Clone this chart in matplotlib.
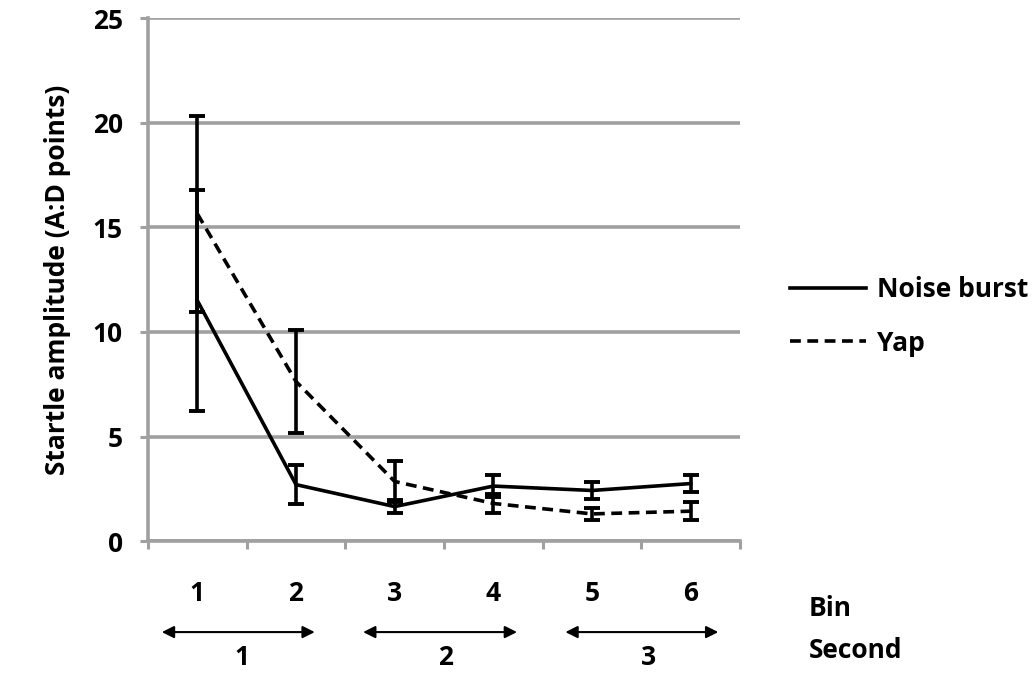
import numpy as np
import matplotlib.pyplot as plt
import matplotlib.transforms as mtransforms
from matplotlib.lines import Line2D

plt.rcParams['font.family'] = ['Open Sans', 'DejaVu Sans']
plt.rcParams['font.weight'] = 'bold'

bins = [1, 2, 3, 4, 5, 6]
noise = [11.5, 2.7, 1.65, 2.63, 2.42, 2.75]
noise_err = [5.3, 0.92, 0.3, 0.52, 0.42, 0.42]
yap = [15.65, 7.63, 2.85, 1.8, 1.3, 1.43]
yap_err = [4.68, 2.48, 1.0, 0.47, 0.3, 0.44]
seconds = ["1", "2", "3"]
second_pos = [1.45, 3.52, 5.57]
arrow_spans = [(0.64, 2.19), (2.68, 4.24), (4.73, 6.28)]

grey = "#a0a0a0"
dash = (0, (3, 1.8))
fs = 19

fig = plt.figure(figsize=(10.35, 6.73), dpi=100)
ax = fig.add_axes([0.143, 0.196, 0.572, 0.777])

ax.errorbar(bins, noise, yerr=noise_err, color="black", lw=2.6, ls="-",
            capsize=6, capthick=2.8, elinewidth=2.6, zorder=3)
ax.errorbar(bins, yap, yerr=yap_err, color="black", lw=2.6, ls=dash,
            capsize=6, capthick=2.8, elinewidth=2.6, zorder=3)

ax.set_xlim(0.5, 6.5)
ax.set_ylim(0, 25)
ax.set_yticks(range(0, 26, 5))
ax.yaxis.grid(True, color=grey, lw=2.6)
ax.set_axisbelow(True)

for s in ["top", "right"]:
    ax.spines[s].set_visible(False)
for s in ["left", "bottom"]:
    ax.spines[s].set_color(grey)
    ax.spines[s].set_linewidth(2.6)

ax.set_xticks(np.arange(0.5, 6.6, 1))
ax.set_xticklabels([])
ax.tick_params(axis="both", color=grey, width=2.2, length=6, labelsize=fs)
ax.tick_params(axis="y", pad=12)

ax.set_ylabel("Startle amplitude (A:D points)", fontsize=fs, fontweight="bold", labelpad=16)

trans = mtransforms.blended_transform_factory(ax.transData, ax.transAxes)
for b in bins:
    ax.text(b, -0.1, str(b), transform=trans, ha="center", va="center",
            fontsize=fs, fontweight="bold")
for (x0, x1), lab, xp in zip(arrow_spans, seconds, second_pos):
    ax.annotate("", xy=(x0, -0.174), xytext=(x1, -0.174), xycoords=trans,
                textcoords=trans, annotation_clip=False,
                arrowprops=dict(arrowstyle="<|-|>", color="black", lw=1.5,
                                mutation_scale=18, shrinkA=0, shrinkB=0))
    ax.text(xp, -0.222, lab, transform=trans, ha="center", va="center",
            fontsize=fs, fontweight="bold")

fig.text(0.781, 0.096, "Bin", fontsize=fs, fontweight="bold", va="center")
fig.text(0.781, 0.034, "Second", fontsize=fs, fontweight="bold", va="center")

handles = [Line2D([], [], color="black", lw=2.6, ls="-"),
           Line2D([], [], color="black", lw=2.6, ls=dash)]
ax.legend(handles, ["Noise burst", "Yap"], loc="center left",
          bbox_to_anchor=(0.74, 0.53), bbox_transform=fig.transFigure,
          frameon=False, fontsize=fs, handlelength=2.9, labelspacing=1.0,
          handletextpad=0.4)

fig.savefig("out.png", dpi=100)
